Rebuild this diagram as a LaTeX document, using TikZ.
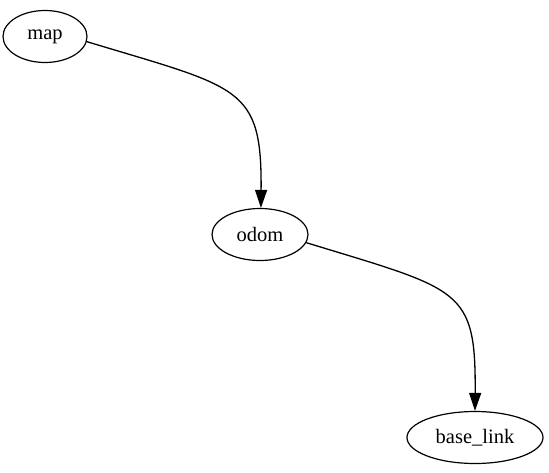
\documentclass[tikz,border=0pt]{standalone}
\usepackage{fontspec}
\setmainfont{Liberation Serif}
\usetikzlibrary{shapes.geometric,arrows.meta}
\tikzset{
  frame/.style={draw,ellipse,line width=1.2pt,inner sep=0pt,minimum height=52pt,font=\fontsize{20.5}{24}\selectfont},
  link/.style={line width=1.3pt,-{Triangle[length=18pt,width=12pt]}}
}
\begin{document}
\begin{tikzpicture}[x=1pt,y=-1pt]
\useasboundingbox(0,0)rectangle(549,472);
\node[frame,minimum width=84pt](map)at(45,36.5){map};
\node[frame,minimum width=96pt](odom)at(260,234.5){odom};
\node[frame,minimum width=136pt](base)at(475,437.5){base\_link};
\draw[link](map.-7)..controls(240,88)and(262,86)..(odom.88);
\draw[link](odom.-10)..controls(461,290)and(476,288)..(base.90);
\end{tikzpicture}
\end{document}
